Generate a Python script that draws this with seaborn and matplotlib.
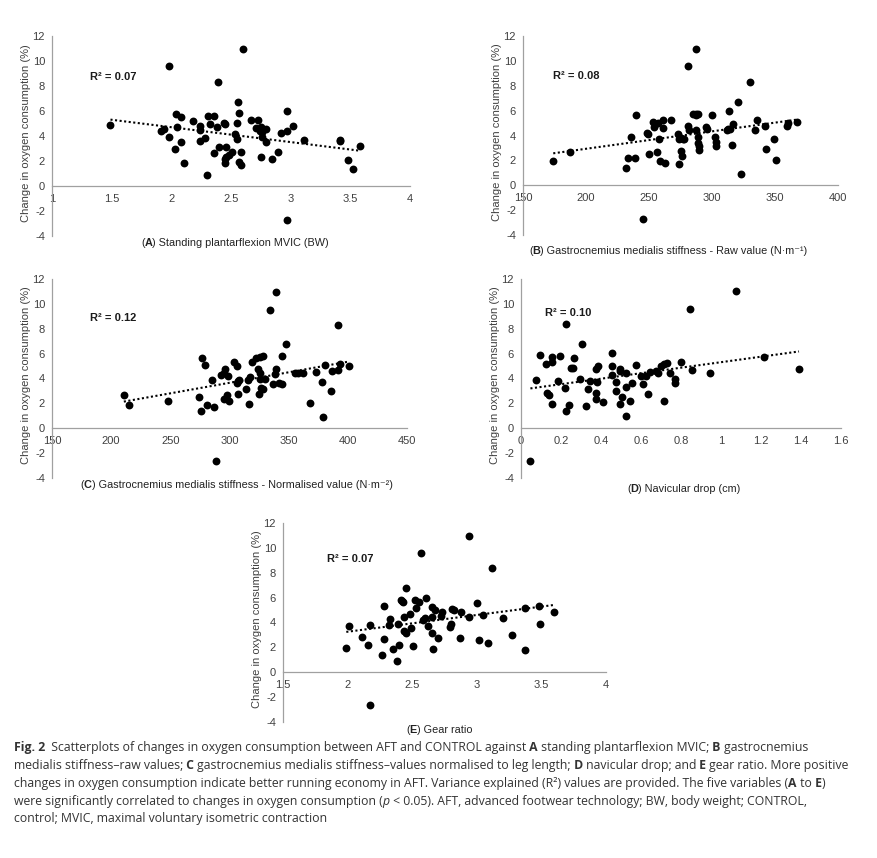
import matplotlib
matplotlib.use("Agg")
import matplotlib.pyplot as plt
import seaborn as sns
import pandas as pd
from matplotlib import font_manager

# ---------------- data ----------------
A_x = [1.49,1.98,2.60,2.39,2.56,2.57,2.97,2.04,2.08,2.31,2.36,2.18,2.32,2.24,2.05,1.94,1.91,2.24,2.38,2.44,
       2.45,2.55,2.67,2.73,2.71,2.75,2.79,2.76,2.74,2.97,3.02,2.92,2.53,2.76,2.55,1.98,2.24,2.28,2.08,2.79,
       3.11,3.41,3.41,3.58,2.03,2.40,2.46,2.51,2.58,2.36,2.48,2.46,2.89,2.75,2.84,2.45,2.45,2.57,2.58,2.11,
       3.48,3.52,2.30,2.97]
A_y = [4.91,9.57,10.97,8.31,6.73,5.84,5.98,5.74,5.55,5.60,5.60,5.17,4.93,4.77,4.75,4.58,4.40,4.48,4.75,5.04,
       4.99,5.07,5.28,5.28,4.61,4.69,4.53,4.34,4.42,4.40,4.77,4.24,4.18,3.94,3.75,3.89,3.62,3.83,3.51,3.54,
       3.67,3.70,3.62,3.22,2.98,3.14,3.14,2.76,2.71,2.63,2.49,2.31,2.76,2.31,2.14,2.14,1.88,1.93,1.72,1.82,
       2.09,1.39,0.91,-2.68]

B_x = [174,187,232,233,239,236,240,249.5,250,248.7,253,254,255,257,261,261,267.5,258,256,259,
       263,273,274,275.5,277,278,275.5,276.5,274,281,282,281,287,285,287,289,287,287,289,289,
       290,289.5,295,296,300,302,303,303,312,313,314.5,313.7,316,317,321,323,330,334,336,342,
       342.5,349,351,359.5,360,367.5,245]
B_y = [1.93,2.68,1.39,2.2,2.2,3.86,5.63,4.16,2.55,4.21,5.07,4.69,4.96,5.04,5.28,4.58,5.28,3.70,2.65,1.93,
       1.82,4.16,3.70,3.81,3.70,3.70,2.76,2.33,1.72,4.77,4.48,9.57,10.97,5.76,5.76,5.71,5.63,4.42,3.89,3.41,
       3.14,2.82,4.69,4.56,5.66,3.89,3.49,3.14,4.42,4.50,4.53,5.98,3.27,4.91,6.73,0.93,8.34,4.42,5.23,4.80,
       2.92,3.75,2.06,4.80,5.01,5.07,-2.68]

C_x = [210.7,215,248,274,276.6,279,276,280.6,287,285.6,293,295,296.6,298.6,295,298,299.4,304,306,306,
       307,308,306.8,313.8,315.8,317,316.6,319,322.8,324,325.4,325.6,328,326,329.6,327,328,325,337,339,
       338.6,341.7,344,344,348,334,339,355,357.5,362,368,373,378,379,381,385.6,386.8,392,392,393.8,
       401,288.5]
C_y = [2.65,1.88,2.17,2.52,5.68,5.09,1.39,1.85,1.72,3.89,4.26,4.48,4.75,4.18,2.36,2.68,2.17,5.33,5.01,3.67,
       3.78,3.86,2.79,3.14,3.86,4.13,1.96,5.31,5.68,4.75,4.48,5.76,5.84,3.97,3.94,3.27,3.16,2.79,3.59,4.77,
       4.40,3.67,3.54,5.82,6.76,9.54,10.96,4.42,4.42,4.45,2.06,4.50,3.75,0.91,5.07,2.98,4.64,8.34,4.69,5.20,
       5.01,-2.65]

D_x = [0.047,0.075,0.097,0.127,0.128,0.138,0.155,0.157,0.157,0.187,0.195,0.218,0.227,0.227,0.238,0.248,0.258,
       0.267,0.297,0.307,0.327,0.337,0.347,0.375,0.383,0.378,0.375,0.375,0.408,0.455,0.457,0.455,0.477,0.477,
       0.497,0.495,0.495,0.505,0.525,0.525,0.525,0.547,0.555,0.575,0.60,0.612,0.625,0.635,0.647,0.675,0.683,
       0.70,0.717,0.728,0.717,0.745,0.768,0.768,0.798,0.847,0.855,0.945,1.077,1.215,1.39]
D_y = [-2.6,3.91,5.90,5.15,2.84,2.68,5.74,5.36,1.93,3.81,5.84,3.22,8.39,1.42,1.90,4.88,4.88,5.63,3.99,6.81,
       1.77,3.19,3.83,4.80,4.99,3.75,2.84,2.39,2.12,6.03,5.04,4.29,3.73,3.03,4.80,4.58,1.98,2.52,4.45,3.32,
       0.97,2.22,3.65,5.12,4.24,3.59,4.24,2.76,4.53,4.64,4.42,5.04,5.20,5.25,2.22,4.42,3.97,3.65,5.33,9.60,
       4.66,4.45,11.02,5.71,4.80]

E_x = [1.99,2.01,2.11,2.16,2.17,2.17,2.28,2.28,2.27,2.32,2.33,2.35,2.38,2.39,2.40,2.41,2.42,2.43,2.45,2.44,
       2.44,2.45,2.48,2.49,2.51,2.52,2.53,2.55,2.57,2.58,2.60,2.61,2.62,2.65,2.65,2.65,2.66,2.68,2.70,2.72,
       2.73,2.79,2.80,2.81,2.82,2.87,2.88,2.94,2.94,3.00,3.02,3.05,3.09,3.12,3.20,3.27,3.37,3.37,3.48,3.49,
       3.60]
E_y = [1.98,3.70,2.82,2.23,3.81,-2.63,5.34,2.65,1.39,3.81,4.26,1.88,0.94,3.89,2.20,5.79,5.74,5.63,6.81,4.45,
       3.35,3.16,4.72,3.57,2.09,5.84,5.15,5.68,9.60,4.24,4.40,6.0,3.73,4.45,5.25,3.16,1.90,5.01,2.79,4.56,
       4.88,3.65,3.91,5.07,4.99,2.73,4.83,10.99,4.45,5.60,2.57,4.64,2.36,8.36,4.40,2.98,1.77,5.15,5.31,3.91,
       4.85]

A_xticks = [1, 1.5, 2, 2.5, 3, 3.5, 4]
B_xticks = [150, 200, 250, 300, 350, 400]
C_xticks = [150, 200, 250, 300, 350, 400, 450]
D_xticks = [0, 0.2, 0.4, 0.6, 0.8, 1.0, 1.2, 1.4, 1.6]
E_xticks = [1.5, 2, 2.5, 3, 3.5, 4]
y_ticks = [-4, -2, 0, 2, 4, 6, 8, 10, 12]

r2_labels = ["R\u00b2 = 0.07", "R\u00b2 = 0.08", "R\u00b2 = 0.12", "R\u00b2 = 0.10", "R\u00b2 = 0.07"]
panel_letters = ["A", "B", "C", "D", "E"]
panel_titles = [" Standing plantarflexion MVIC (BW)",
                " Gastrocnemius medialis stiffness - Raw value (N\u00b7m\u207b\u00b9)",
                " Gastrocnemius medialis stiffness - Normalised value (N\u00b7m\u207b\u00b2)",
                " Navicular drop (cm)",
                " Gear ratio"]
y_label = "Change in oxygen consumption (%)"

# ---------------- figure ----------------
sns.set_style("white")
plt.rcParams["font.family"] = ["Liberation Sans", "DejaVu Sans"]

W, H = 878, 858
fig = plt.figure(figsize=(W / 100, H / 100), dpi=100)

def px(x, y):
    return x / W, 1 - y / H

AXC = "#a0a0a0"
TXC = "#404040"

# layout: (left, top, right, bottom) px; r2 pos; title start x, baseline y
layout = [
    ((52, 36, 410, 236), (90, 80), (141, 246)),
    ((523, 36, 838, 235), (553, 79), (529, 254)),
    ((52, 279, 407, 478), (90, 321), (80, 488)),
    ((521, 279, 841, 478), (545, 316), (627, 492)),
    ((283, 523, 606, 722), (327, 562), (406, 733)),
]
datasets = [(A_x, A_y, A_xticks), (B_x, B_y, B_xticks), (C_x, C_y, C_xticks),
            (D_x, D_y, D_xticks), (E_x, E_y, E_xticks)]

def fmt(v):
    return "{:g}".format(v)

def chain(segs, x0, y0, fontsize, color, family):
    arts = []
    prev = None
    for txt, style in segs:
        kw = dict(fontsize=fontsize, color=color, family=family)
        if style == "b":
            kw["fontweight"] = "bold"
        elif style == "i":
            kw["fontstyle"] = "italic"
        if prev is None:
            x, y = px(x0, y0)
            t = fig.text(x, y, txt, ha="left", va="baseline", **kw)
        else:
            t = fig.add_artist(matplotlib.text.Annotation(txt, xy=(1, 0), xycoords=prev,
                                                          ha="left", va="bottom", **kw))
        arts.append(t)
        prev = t
    return arts

for (xs, ys, xt), ((l, t, r, b), r2pos, tpos), r2, letter, title in zip(
        datasets, layout, r2_labels, panel_letters, panel_titles):
    ax = fig.add_axes([l / W, 1 - b / H, (r - l) / W, (b - t) / H])
    df = pd.DataFrame({"x": xs, "y": ys})
    sns.regplot(data=df, x="x", y="y", ax=ax, ci=None, color="black",
                scatter_kws=dict(s=32, linewidths=0, alpha=1),
                line_kws=dict(lw=1.5, ls=(0, (1, 1.2)), color="black"))
    ax.set_xlim(xt[0], xt[-1])
    ax.set_ylim(-4, 12)
    ax.set_xticks(xt)
    ax.set_xticklabels([fmt(v) for v in xt])
    ax.set_yticks(y_ticks)
    ax.set_yticklabels([fmt(v) for v in y_ticks])
    ax.set_xlabel("")
    ax.set_ylabel("")
    for s in ["top", "right"]:
        ax.spines[s].set_visible(False)
    ax.spines["bottom"].set_position(("data", 0))
    for s in ["left", "bottom"]:
        ax.spines[s].set_color(AXC)
        ax.spines[s].set_linewidth(0.9)
    ax.tick_params(axis="x", direction="inout", length=4, width=0.8, color=AXC,
                   labelsize=8, labelcolor=TXC, pad=3.5)
    ax.tick_params(axis="y", direction="out", length=3, width=0.8, color=AXC,
                   labelsize=8, labelcolor=TXC, pad=2)
    ax.set_facecolor("none")
    ax.text(r2pos[0] / W, 1 - r2pos[1] / H, r2, transform=fig.transFigure,
            fontsize=8, fontweight="bold", color="#1a1a1a", ha="left", va="baseline")
    # y label
    fig.text((l - 26) / W, 1 - ((t + b) / 2 - 3) / H, y_label, rotation=90,
             ha="center", va="center", fontsize=8, color=TXC)
    # x title with bold letter
    chain([("(", "n"), (letter, "b"), (")" + title, "n")], tpos[0], tpos[1],
          7.8, "#222222", ["Liberation Sans", "DejaVu Sans"])

# ---------------- caption ----------------
names = {f.name for f in font_manager.fontManager.ttflist}
cap_family = ["Open Sans", "DejaVu Sans"] if "Open Sans" in names else ["DejaVu Sans"]

caption = [
    [("Fig. 2", "b"), ("  Scatterplots of changes in oxygen consumption between AFT and CONTROL against", "n"),
     (" A", "b"), (" standing plantarflexion MVIC;", "n"), (" B", "b"), (" gastrocnemius", "n")],
    [("medialis stiffness\u2013raw values;", "n"), (" C", "b"),
     (" gastrocnemius medialis stiffness\u2013values normalised to leg length;", "n"), (" D", "b"),
     (" navicular drop; and", "n"), (" E", "b"), (" gear ratio. More positive", "n")],
    [("changes in oxygen consumption indicate better running economy in AFT. Variance explained (R\u00b2) values are provided. The five variables (", "n"),
     ("A", "b"), (" to", "n"), (" E", "b"), (")", "n")],
    [("were significantly correlated to changes in oxygen consumption (", "n"), ("p", "i"),
     (" < 0.05). AFT, advanced footwear technology; BW, body weight; CONTROL,", "n")],
    [("control; MVIC, maximal voluntary isometric contraction", "n")],
]
baselines = [751, 769, 787, 805, 822]

# fit font size so the caption lines span like the reference
renderer = fig.canvas.get_renderer()
test = chain(caption[0], 14, 751, 8.0, "#333333", cap_family)
fig.canvas.draw()
right = test[-1].get_window_extent(renderer).x1
for a in test:
    a.remove()
width_px = right - 14
cap_fs = 8.0 * (800.0 / width_px) if width_px > 0 else 8.0

for segs, yb in zip(caption, baselines):
    chain(segs, 14, yb, cap_fs, "#333333", cap_family)

fig.savefig("out.png", dpi=100, facecolor="white")
